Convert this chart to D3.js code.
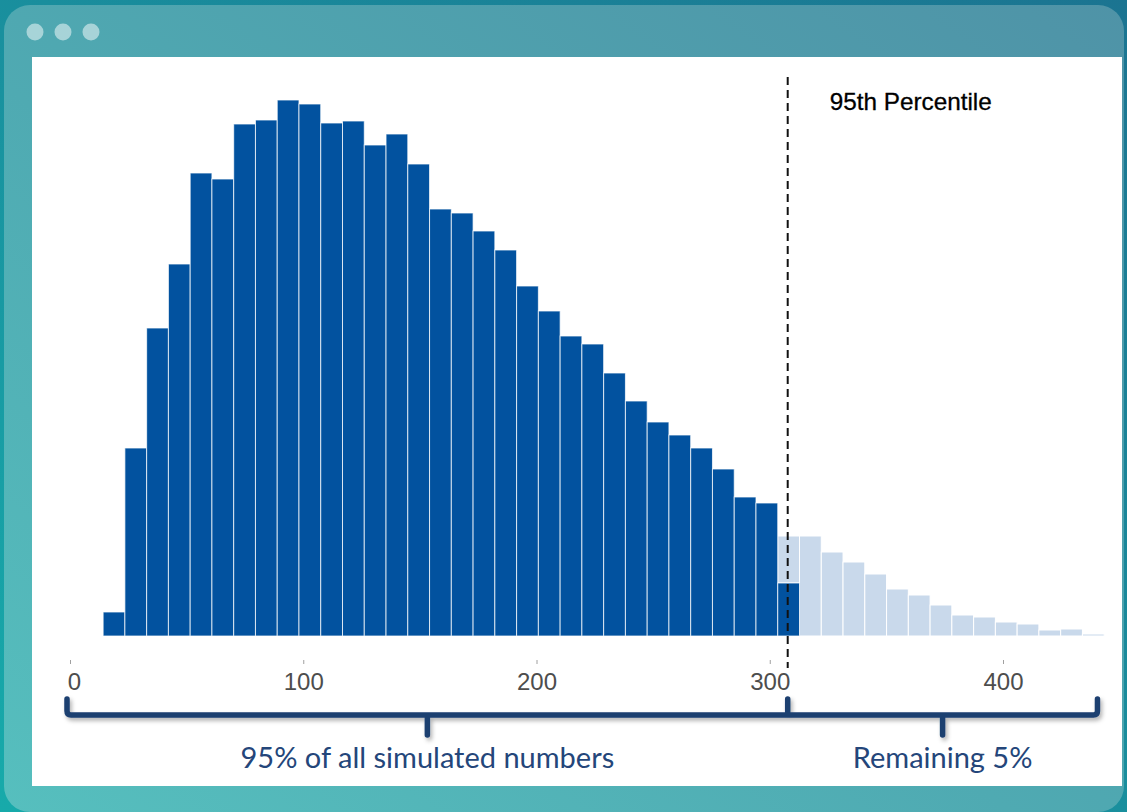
<!DOCTYPE html>
<html>
<head>
<meta charset="utf-8">
<script src="https://cdn.jsdelivr.net/npm/d3@7"></script>
<style>
  html, body { margin: 0; padding: 0; background: #1a8f9a; }
  svg { display: block; }
</style>
</head>
<body>
<div id="chart"></div>
<script>
// Histogram of simulated numbers with 95th percentile marker

// bins (in data units)
var binStart = 14.2,
	binWidth = 9.33;

// counts per bin below the 95th percentile (dark) and above it (light)
var lowerCounts = [24, 188, 308, 372, 463, 457, 512, 516, 536, 532, 513, 515, 491, 502, 472, 427,
	423, 405, 386, 350, 325, 300, 292, 263, 235, 214, 201, 188, 167, 139, 133, 53,
	0, 0, 0, 0, 0, 0, 0, 0, 0, 0, 0, 0, 0, 0];
var upperCounts = [0, 0, 0, 0, 0, 0, 0, 0, 0, 0, 0, 0, 0, 0, 0, 0,
	0, 0, 0, 0, 0, 0, 0, 0, 0, 0, 0, 0, 0, 0, 0, 47,
	100, 84, 74, 62, 47, 41, 31, 21, 19, 14, 12, 6, 7, 2];

var xTicks = [0, 100, 200, 300, 400];
var percentile95 = 307.7;
var percentileLabel = '95th Percentile';
var bracketLabels = ['95% of all simulated numbers', 'Remaining 5%'];

var width = 1127,
	height = 812,
	panel = {left: 32, top: 57, right: 1122, bottom: 786},
	darkBlue = '#02529f',
	lightBlue = '#c9d9eb',
	navy = '#1d3f70';

var x = d3.scaleLinear().domain([0, 400]).range([70, 1003]);
var y = d3.scaleLinear().domain([0, 540]).range([636, 96]);

var svg = d3.select('#chart').append('svg')
	.attr('width', width)
	.attr('height', height);

var defs = svg.append('defs');

var bgGrad = defs.append('linearGradient').attr('id', 'bgGrad')
	.attr('x1', 0).attr('y1', 1).attr('x2', 1).attr('y2', 0);
bgGrad.append('stop').attr('offset', '0%').attr('stop-color', '#17aaaa');
bgGrad.append('stop').attr('offset', '100%').attr('stop-color', '#1b7491');

var cardGrad = defs.append('linearGradient').attr('id', 'cardGrad')
	.attr('x1', 0).attr('y1', 1).attr('x2', 1).attr('y2', 0);
cardGrad.append('stop').attr('offset', '0%').attr('stop-color', '#56bfbe');
cardGrad.append('stop').attr('offset', '45%').attr('stop-color', '#4faab2');
cardGrad.append('stop').attr('offset', '100%').attr('stop-color', '#4f93a7');

var shadow = defs.append('filter').attr('id', 'shadow')
	.attr('x', '-5%').attr('y', '-50%').attr('width', '110%').attr('height', '200%');
shadow.append('feDropShadow')
	.attr('dx', 2).attr('dy', 3)
	.attr('stdDeviation', 2)
	.attr('flood-color', '#000')
	.attr('flood-opacity', 0.3);

// window frame
svg.append('rect')
	.attr('width', width).attr('height', height)
	.attr('fill', 'url(#bgGrad)');

svg.append('rect')
	.attr('x', 4).attr('y', 5)
	.attr('width', 1120).attr('height', 807)
	.attr('rx', 26)
	.attr('fill', 'url(#cardGrad)');

svg.selectAll('.dot')
	.data([35, 63, 91])
	.enter().append('circle')
	.attr('class', 'dot')
	.attr('cx', function(d) { return d; })
	.attr('cy', 32)
	.attr('r', 8.5)
	.attr('fill', '#ffffff')
	.attr('fill-opacity', 0.5);

svg.append('rect')
	.attr('x', panel.left).attr('y', panel.top)
	.attr('width', panel.right - panel.left)
	.attr('height', panel.bottom - panel.top)
	.attr('fill', '#ffffff');

// stacked bars
var bins = lowerCounts.map(function(d, i) {
	return {
		x0: binStart + i * binWidth,
		x1: binStart + (i + 1) * binWidth,
		lower: d,
		upper: upperCounts[i]
	};
});

var bars = svg.append('g').attr('class', 'bars');

bars.selectAll('.upper')
	.data(bins.filter(function(d) { return d.upper > 0; }))
	.enter().append('rect')
	.attr('class', 'upper')
	.attr('x', function(d) { return x(d.x0); })
	.attr('width', function(d) { return x(d.x1) - x(d.x0); })
	.attr('y', function(d) { return y(d.lower + d.upper); })
	.attr('height', function(d) { return y(d.lower) - y(d.lower + d.upper); })
	.attr('fill', lightBlue)
	.attr('stroke', '#ffffff')
	.attr('stroke-width', 1);

bars.selectAll('.lower')
	.data(bins.filter(function(d) { return d.lower > 0; }))
	.enter().append('rect')
	.attr('class', 'lower')
	.attr('x', function(d) { return x(d.x0); })
	.attr('width', function(d) { return x(d.x1) - x(d.x0); })
	.attr('y', function(d) { return y(d.lower); })
	.attr('height', function(d) { return y(0) - y(d.lower); })
	.attr('fill', darkBlue)
	.attr('stroke', '#ffffff')
	.attr('stroke-opacity', 0.75)
	.attr('stroke-width', 1);

// x axis (ticks + labels only)
var axis = svg.append('g')
	.attr('transform', 'translate(0,' + 660 + ')')
	.call(d3.axisBottom(x).tickValues(xTicks).tickSize(4).tickPadding(6));
axis.select('.domain').remove();
axis.selectAll('.tick line').attr('stroke', '#a0a0a0');
axis.selectAll('.tick text')
	.attr('fill', '#4d4d4d')
	.attr('dy', '0.85em')
	.attr('dx', function(d) { return d === 0 ? 4 : 0; })
	.style('font-family', '"Liberation Sans", Arial, sans-serif')
	.style('font-size', '24px');

// percentile line
svg.append('line')
	.attr('x1', x(percentile95)).attr('x2', x(percentile95))
	.attr('y1', 77).attr('y2', 668)
	.attr('stroke', '#111')
	.attr('stroke-width', 2)
	.attr('stroke-dasharray', '8,5');

svg.append('text')
	.attr('x', x(percentile95) + 42)
	.attr('y', 110)
	.text(percentileLabel)
	.style('font-family', '"Liberation Sans", Arial, sans-serif')
	.style('font-size', '24.3px')
	.style('fill', '#000')
	.style('stroke', '#000')
	.style('stroke-width', 0.3);

// brackets
var bLeft = x(0) - 3,
	bMid = x(percentile95),
	bRight = x(440.5),
	bTop = 699,
	bLine = 715,
	bTip = 735,
	r = 4;

var bp = d3.path();
bp.moveTo(bLeft, bTop);
bp.lineTo(bLeft, bLine - r);
bp.quadraticCurveTo(bLeft, bLine, bLeft + r, bLine);
bp.lineTo(bRight - r, bLine);
bp.quadraticCurveTo(bRight, bLine, bRight, bLine - r);
bp.lineTo(bRight, bTop);
// centre tips and divider
bp.moveTo((bLeft + bMid) / 2, bLine);
bp.lineTo((bLeft + bMid) / 2, bTip);
bp.moveTo((bMid + bRight) / 2, bLine);
bp.lineTo((bMid + bRight) / 2, bTip);
bp.moveTo(bMid, bLine);
bp.lineTo(bMid, bTop);

svg.append('path')
	.attr('d', bp.toString())
	.attr('fill', 'none')
	.attr('stroke', navy)
	.attr('stroke-width', 5.5)
	.attr('stroke-linecap', 'round')
	.attr('stroke-linejoin', 'round')
	.attr('filter', 'url(#shadow)');

svg.selectAll('.bracket-label')
	.data([(bLeft + bMid) / 2, (bMid + bRight) / 2])
	.enter().append('text')
	.attr('class', 'bracket-label')
	.attr('x', function(d) { return d; })
	.attr('y', 768)
	.attr('text-anchor', 'middle')
	.text(function(d, i) { return bracketLabels[i]; })
	.style('font-family', 'Lato, "Open Sans", sans-serif')
	.style('font-size', '29px')
	.style('fill', '#24467a');
</script>
</body>
</html>
